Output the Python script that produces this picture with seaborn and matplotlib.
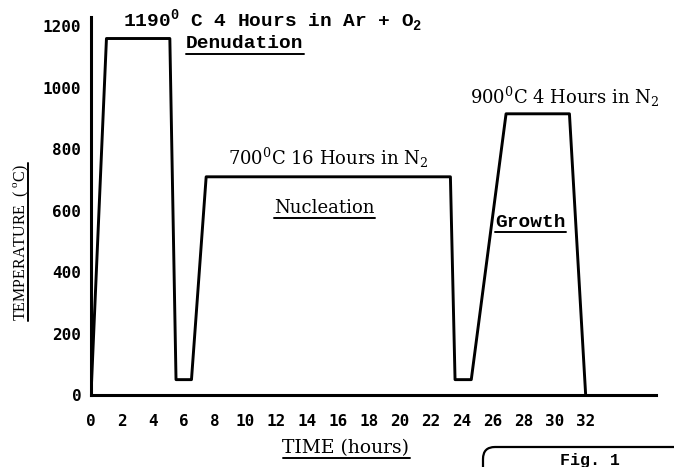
import seaborn as sns
from matplotlib import pyplot as plt
from matplotlib.lines import Line2D
from matplotlib.patches import FancyBboxPatch

# anneal cycle
time_h = [0, 1.0, 5.1, 5.5, 6.5, 7.45, 23.25, 23.55, 24.6, 26.85, 30.95, 32.0]
temp_c = [0, 1160, 1160, 50, 50, 710, 710, 50, 50, 915, 915, 0]
x_ticks = list(range(0, 33, 2))
y_ticks = list(range(0, 1201, 200))

W, H = 674, 467


def px(x, y):
    return x / W, 1 - y / H


def underline(t, off=2, lw=1.4, vertical=False):
    fig.canvas.draw()
    bb = t.get_window_extent()
    inv = fig.transFigure.inverted()
    if vertical:
        p = inv.transform([[bb.x1 + off, bb.y0], [bb.x1 + off, bb.y1]])
    else:
        p = inv.transform([[bb.x0, bb.y0 - off], [bb.x1, bb.y0 - off]])
    fig.add_artist(Line2D(p[:, 0], p[:, 1], color='black', lw=lw))


sns.set_style('white')
plt.rcParams['text.color'] = 'black'
fig = plt.figure(figsize=(6.74, 4.67), dpi=100)
ax = fig.add_axes([91 / W, (H - 395) / H, (656 - 91) / W, (395 - 17) / H])

sns.lineplot(x=time_h, y=temp_c, ax=ax, color='black', lw=2.1,
             sort=False, estimator=None)

ax.set_xlim(0, 36.55)
ax.set_ylim(0, 1230)
ax.set_xticks(x_ticks)
ax.set_yticks(y_ticks)
sns.despine(ax=ax)
for s in ['left', 'bottom']:
    ax.spines[s].set_linewidth(2.2)
    ax.spines[s].set_color('black')
ax.tick_params(axis='x', direction='in', length=12, width=1.8, pad=14, colors='black')
ax.tick_params(axis='y', direction='in', length=10, width=1.8, pad=7, colors='black')
for lab in ax.get_xticklabels() + ax.get_yticklabels():
    lab.set_fontfamily('DejaVu Sans Mono')
    lab.set_fontweight('bold')
    lab.set_fontsize(11.5)
ax.set_xlabel('')
ax.set_ylabel('')

mono = 'Liberation Mono'
serif = 'DejaVu Serif'

fig.text(*px(123, 21), r'1190$^\mathregular{0}$ C 4 Hours in Ar + O$_\mathregular{2}$',
         family=mono, fontweight='bold', fontsize=14, va='center', ha='left')
t_den = fig.text(*px(186, 44), 'Denudation', family=mono, fontweight='bold',
                 fontsize=14, va='center', ha='left')
fig.text(*px(228, 158), r'700$^\mathregular{0}$C 16 Hours in N$_\mathregular{2}$',
         family=serif, fontsize=13, va='center', ha='left')
t_nuc = fig.text(*px(274, 208), 'Nucleation', family=serif, fontsize=13, va='center', ha='left')
t_gro = fig.text(*px(495, 222), 'Growth', family=mono, fontweight='bold',
                 fontsize=14, va='center', ha='left')
fig.text(*px(470, 97), r'900$^\mathregular{0}$C 4 Hours in N$_\mathregular{2}$',
         family=serif, fontsize=13, va='center', ha='left')

t_time = fig.text(*px(346, 448), 'TIME (hours)', family=serif, fontsize=13.5,
                  va='center', ha='center')
t_temp = fig.text(*px(21, 242), 'TEMPERATURE  ( $^\mathregular{o}$C)', family='Liberation Serif',
                  fontsize=11.5, rotation=90, va='center', ha='center')

box = FancyBboxPatch((4.83, -0.3), 2.5, 0.5, boxstyle='round,pad=0,rounding_size=0.12',
                     transform=fig.dpi_scale_trans, fc='none', ec='black', lw=1.6)
fig.add_artist(box)
fig.text(*px(590, 460), 'Fig. 1', family=mono, fontweight='bold', fontsize=12,
         va='center', ha='center')

for t in [t_den, t_nuc, t_gro, t_time]:
    underline(t, off=1)
underline(t_temp, off=-3, vertical=True)

plt.savefig('out.png', dpi=100)
